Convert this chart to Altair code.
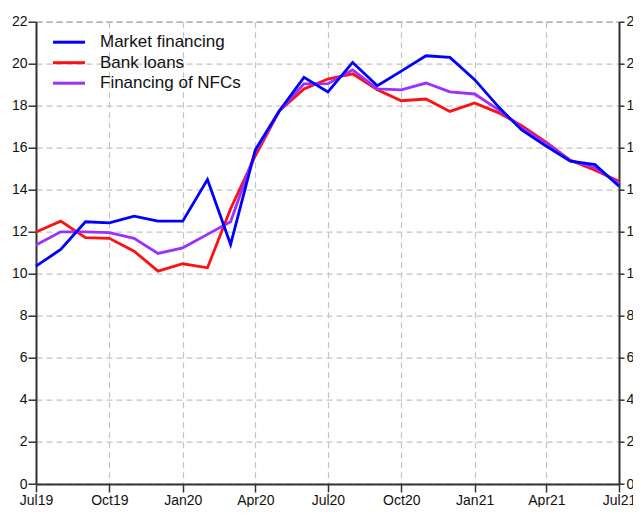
import altair as alt
import pandas as pd

months = [
    "2019-07-01", "2019-08-01", "2019-09-01", "2019-10-01", "2019-11-01", "2019-12-01",
    "2020-01-01", "2020-02-01", "2020-03-01", "2020-04-01", "2020-05-01", "2020-06-01",
    "2020-07-01", "2020-08-01", "2020-09-01", "2020-10-01", "2020-11-01", "2020-12-01",
    "2021-01-01", "2021-02-01", "2021-03-01", "2021-04-01", "2021-05-01", "2021-06-01",
    "2021-07-01",
]

market_financing = [10.37, 11.16, 12.48, 12.43, 12.75, 12.51, 12.51, 14.49, 11.40, 15.90, 17.75, 19.35,
                    18.66, 20.06, 18.95, 19.65, 20.38, 20.30, 19.24, 17.90, 16.85, 16.07, 15.36, 15.20,
                    14.17]
bank_loans = [11.99, 12.51, 11.72, 11.69, 11.08, 10.13, 10.48, 10.29, 13.10, 15.62, 17.75, 18.80,
              19.27, 19.52, 18.76, 18.24, 18.32, 17.73, 18.13, 17.65, 17.05, 16.26, 15.40, 14.93,
              14.41]
financing_nfcs = [11.37, 12.00, 12.00, 11.96, 11.69, 10.97, 11.24, 11.88, 12.48, 15.80, 17.75, 19.04,
                  19.05, 19.71, 18.80, 18.76, 19.08, 18.66, 18.56, 17.78, 16.95, 16.20, 15.40, 15.05,
                  14.30]

series_names = ["Market financing", "Bank loans", "Financing of NFCs"]
series_colors = ["#0000ff", "#ff1010", "#9b30ff"]
y_ticks = [0, 2, 4, 6, 8, 10, 12, 14, 16, 18, 20, 22]
x_tick_dates = [(2019, 7), (2019, 10), (2020, 1), (2020, 4), (2020, 7), (2020, 10),
                (2021, 1), (2021, 4), (2021, 7)]

# draw order: bank loans first, then NFCs, market financing on top
rows = []
for name, vals in [("Bank loans", bank_loans), ("Financing of NFCs", financing_nfcs),
                   ("Market financing", market_financing)]:
    for m, v in zip(months, vals):
        rows.append({"date": m, "series": name, "value": v})
df = pd.DataFrame(rows)

FONT = "Liberation Sans"
x_values = [alt.DateTime(year=y, month=m, date=1, utc=True) for y, m in x_tick_dates]


def make_x():
    return alt.X(
        "date:T",
        scale=alt.Scale(type="utc",
                        domain=[alt.DateTime(year=2019, month=7, date=1, utc=True),
                                alt.DateTime(year=2021, month=7, date=1, utc=True)],
                        nice=False),
        axis=alt.Axis(values=x_values, labelExpr="utcFormat(datum.value, '%b%y')",
                      labelFlush=False, labelAlign="center", title=None,
                      grid=True, gridColor="#c4c4c4", gridDash=[6, 4], gridWidth=1.2,
                      domainColor="#333333", domainWidth=2, tickColor="#333333", tickWidth=1.5,
                      tickSize=8, labelFont=FONT, labelFontSize=14, labelColor="#111111",
                      labelPadding=1),
    )


y_scale = alt.Scale(domain=[0, 22], nice=False)

lines = alt.Chart(df).mark_line(strokeWidth=2.8).encode(
    x=make_x(),
    y=alt.Y("value:Q", scale=y_scale,
            axis=alt.Axis(values=y_ticks, title=None, grid=True, gridColor="#c4c4c4",
                          gridDash=[6, 4], gridWidth=1.2, domainColor="#333333", domainWidth=2,
                          tickColor="#333333", tickWidth=1.5, tickSize=8, labelFont=FONT,
                          labelFontSize=14, labelColor="#111111", labelPadding=1)),
    color=alt.Color("series:N",
                    scale=alt.Scale(domain=series_names, range=series_colors),
                    legend=alt.Legend(orient="none", legendX=21.5, legendY=9, title=None,
                                      symbolType="M-1.6,0H1.6", symbolSize=400,
                                      symbolStrokeWidth=3, labelFontSize=17, labelFont=FONT,
                                      labelColor="#111111", labelOffset=19.5, rowPadding=0.5,
                                      padding=0)),
    detail="series:N",
)

right_axis = alt.Chart(df).mark_line(opacity=0).encode(
    x=make_x(),
    y=alt.Y("value:Q", scale=y_scale,
            axis=alt.Axis(orient="right", values=y_ticks, title=None, grid=False,
                          domainColor="#333333", domainWidth=2, tickColor="#333333",
                          tickWidth=1.5, tickSize=5, labelFont=FONT, labelFontSize=14,
                          labelColor="#111111", labelPadding=2)),
    detail="series:N",
)

chart = alt.layer(lines, right_axis).resolve_axis(y="independent").properties(
    width=583,
    height=462.3,
    autosize=alt.AutoSizeParams(type="none"),
    padding={"left": 28, "top": 13.7, "right": 14, "bottom": 23},
).configure_view(
    stroke="#555555", strokeDash=[6, 4], strokeWidth=1
)

chart.save("out.html", embed_options={"renderer": "svg", "actions": False})
